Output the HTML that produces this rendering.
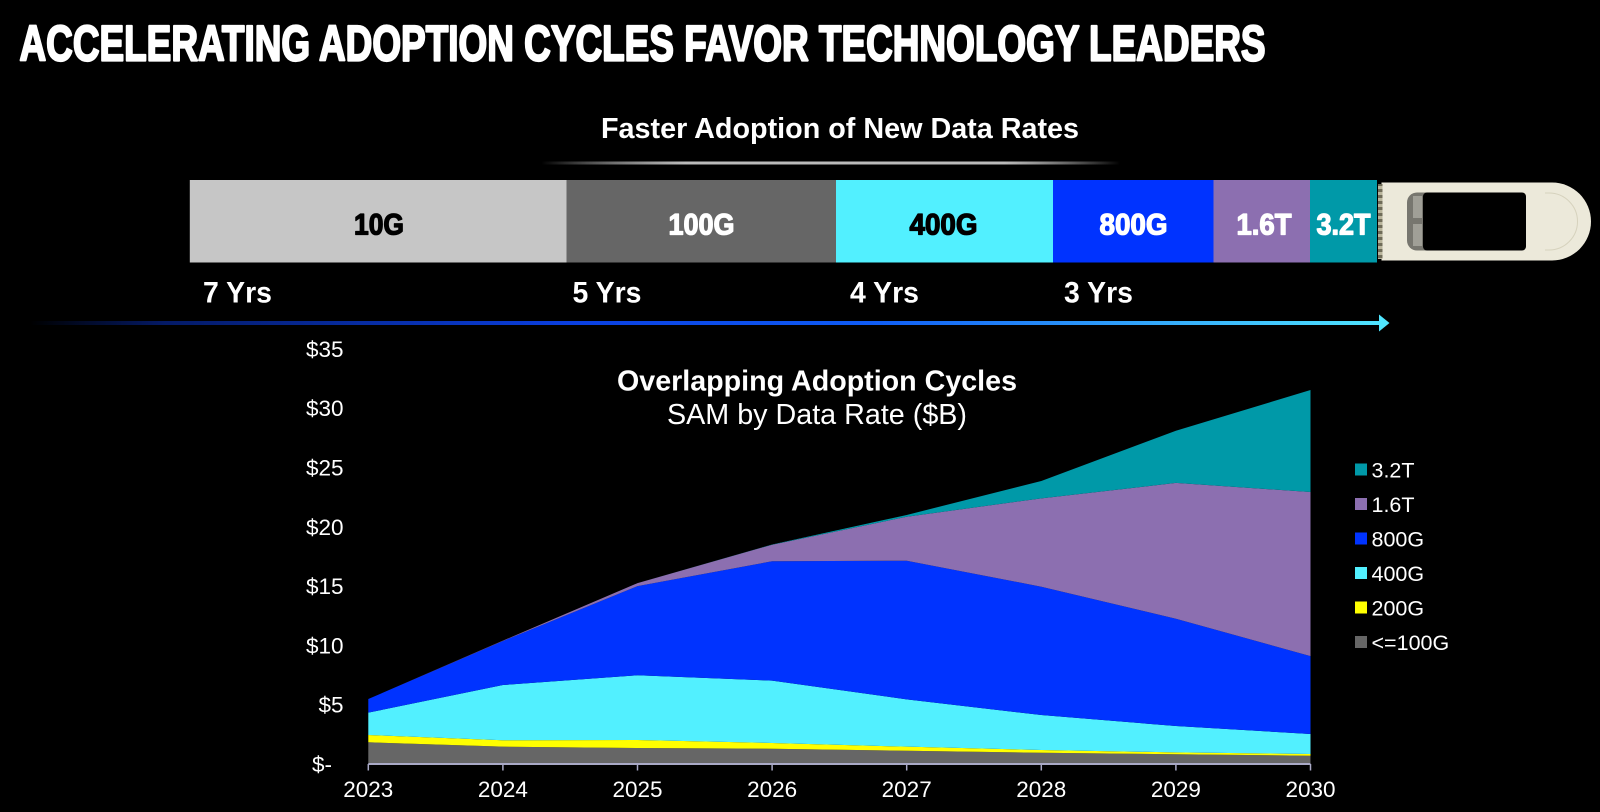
<!DOCTYPE html>
<html lang="en">
<head>
<meta charset="utf-8">
<title>Accelerating Adoption Cycles Favor Technology Leaders</title>
<style>
html,body{margin:0;padding:0;background:#000;width:1600px;height:812px;overflow:hidden}
svg{display:block}
text{font-family:"Liberation Sans",Arial,sans-serif}
.heavy{font-weight:bold;stroke-linejoin:round}
</style>
</head>
<body>
<svg id="root" xmlns="http://www.w3.org/2000/svg" width="1600" height="812" viewBox="0 0 1600 812">
<defs>
<linearGradient id="ruleGrad" x1="0" x2="1" y1="0" y2="0">
<stop offset="0" stop-color="#fff" stop-opacity="0"/>
<stop offset=".25" stop-color="#bbb"/>
<stop offset=".8" stop-color="#bbb"/>
<stop offset="1" stop-color="#fff" stop-opacity="0"/>
</linearGradient>
<linearGradient id="arrowGrad" gradientUnits="userSpaceOnUse" x1="30" x2="1385" y1="0" y2="0">
<stop offset="0" stop-color="#000"/>
<stop offset=".1" stop-color="#041a66"/>
<stop offset=".4" stop-color="#0a3fe0"/>
<stop offset=".62" stop-color="#0f5cf5"/>
<stop offset="1" stop-color="#50e6ff"/>
</linearGradient>
<pattern id="contactPattern" patternUnits="userSpaceOnUse" width="5" height="6">
<rect width="5" height="6" fill="#6f6c58"/>
<rect y="0" width="5" height="3" fill="#b9b59c"/>
</pattern>
</defs>
<rect width="1600" height="812" fill="#000"/>

<text class="heavy" x="19.500" y="60.500" font-size="50" fill="#fff" stroke="#fff" stroke-width="2.200" textLength="1246" lengthAdjust="spacingAndGlyphs">ACCELERATING ADOPTION CYCLES FAVOR TECHNOLOGY LEADERS</text>
<text class="heavy" x="601" y="138" font-size="29" fill="#fff" textLength="478" lengthAdjust="spacingAndGlyphs">Faster Adoption of New Data Rates</text>
<rect x="541" y="161.500" width="579" height="3" fill="url(#ruleGrad)"/>

<g>
<rect x="189.800" y="180" width="376.700" height="82.500" fill="#c6c6c6"/>
<rect x="566.500" y="180" width="269.500" height="82.500" fill="#666666"/>
<rect x="836" y="180" width="217" height="82.500" fill="#52f0ff"/>
<rect x="1053" y="180" width="160.500" height="82.500" fill="#0033ff"/>
<rect x="1213.500" y="180" width="96.500" height="82.500" fill="#8c6fb0"/>
<rect x="1310" y="180" width="67" height="82.500" fill="#0099a8"/>
<text class="heavy" x="354" y="234.500" font-size="30" fill="#000" stroke="#000" stroke-width="1.300" textLength="50" lengthAdjust="spacingAndGlyphs">10G</text>
<text class="heavy" x="668.500" y="234.500" font-size="30" fill="#fff" stroke="#fff" stroke-width="1.300" textLength="66" lengthAdjust="spacingAndGlyphs">100G</text>
<text class="heavy" x="909.500" y="234.500" font-size="30" fill="#000" stroke="#000" stroke-width="1.300" textLength="68" lengthAdjust="spacingAndGlyphs">400G</text>
<text class="heavy" x="1099.500" y="234.500" font-size="30" fill="#fff" stroke="#fff" stroke-width="1.300" textLength="68" lengthAdjust="spacingAndGlyphs">800G</text>
<text class="heavy" x="1236.500" y="234.500" font-size="30" fill="#fff" stroke="#fff" stroke-width="1.300" textLength="55" lengthAdjust="spacingAndGlyphs">1.6T</text>
<text class="heavy" x="1316.500" y="234.500" font-size="30" fill="#fff" stroke="#fff" stroke-width="1.300" textLength="54" lengthAdjust="spacingAndGlyphs">3.2T</text>
</g>

<g>
<path d="M1381.500 182.500H1552a39 39 0 0 1 0 78H1381.500Z" fill="#ece9da"/>
<path d="M1545 193H1549a28.500 28.500 0 0 1 0 57H1545" fill="none" stroke="#d6d2bd" stroke-width="1"/>
<rect x="1378" y="184" width="4.500" height="75" fill="url(#contactPattern)"/>
<rect x="1407" y="192.500" width="30" height="58" rx="10" fill="#77766f"/>
<rect x="1413" y="196" width="9" height="22" fill="#a09f97"/>
<rect x="1413" y="224" width="9" height="22" fill="#a09f97"/>
<rect x="1423" y="192.500" width="103" height="58" rx="4" fill="#000"/>
</g>

<text class="heavy" x="203" y="302.500" font-size="30" fill="#fff" textLength="69" lengthAdjust="spacingAndGlyphs">7 Yrs</text>
<text class="heavy" x="572.500" y="302.500" font-size="30" fill="#fff" textLength="69" lengthAdjust="spacingAndGlyphs">5 Yrs</text>
<text class="heavy" x="850" y="302.500" font-size="30" fill="#fff" textLength="69" lengthAdjust="spacingAndGlyphs">4 Yrs</text>
<text class="heavy" x="1064" y="302.500" font-size="30" fill="#fff" textLength="69" lengthAdjust="spacingAndGlyphs">3 Yrs</text>

<g>
<rect x="30" y="321" width="1351" height="4" fill="url(#arrowGrad)"/>
<polygon points="1379,314.500 1389.500,323 1379,331.500" fill="#50e6ff"/>
</g>

<text class="heavy" x="617" y="390.500" font-size="29" fill="#fff" textLength="400" lengthAdjust="spacingAndGlyphs">Overlapping Adoption Cycles</text>
<text x="667" y="424" font-size="29" fill="#fff" textLength="300" lengthAdjust="spacingAndGlyphs">SAM by Data Rate ($B)</text>

<g id="areas"></g>
<g id="xaxis"></g>
<g id="yaxis"></g>
<g id="legend"></g>
</svg>
<script>
const years = ["2023","2024","2025","2026","2027","2028","2029","2030"];
const yTickValues = [0,5,10,15,20,25,30,35];
const yTickLabels = ["$-","$5","$10","$15","$20","$25","$30","$35"];
const seriesNames = ["<=100G","200G","400G","800G","1.6T","3.2T"];
const seriesColors = ["#666666","#ffff00","#52f0ff","#0033ff","#8c6fb0","#0099a8"];
const le100G = [1.83,1.46,1.35,1.29,1.12,0.95,0.82,0.70];
const s200G  = [0.62,0.54,0.67,0.48,0.34,0.23,0.16,0.14];
const s400G  = [1.88,4.66,5.46,5.26,3.99,2.95,2.22,1.69];
const s800G  = [1.15,3.71,7.52,10.06,11.69,10.82,9.05,6.57];
const s1600G = [0.00,0.03,0.25,1.40,3.71,7.45,11.45,13.83];
const s3200G = [0.00,0.00,0.00,0.02,0.15,1.46,4.40,8.60];
const seriesValues = [le100G,s200G,s400G,s800G,s1600G,s3200G];

const NS = "http://www.w3.org/2000/svg";
function xScale(i){ return 368.3 + i * (1310.5 - 368.3) / (years.length - 1); }
function yScale(v){ return 764 - v * 11.86; }
function make(tag, attrs, parent){
  const el = document.createElementNS(NS, tag);
  for (const k in attrs) el.setAttribute(k, attrs[k]);
  parent.appendChild(el);
  return el;
}

const areas = document.getElementById("areas");
let base = years.map(() => 0);
seriesValues.forEach((vals, s) => {
  const top = vals.map((v, i) => base[i] + v);
  const pts = [];
  top.forEach((v, i) => pts.push(xScale(i).toFixed(2) + "," + yScale(v).toFixed(2)));
  for (let i = years.length - 1; i >= 0; i--) pts.push(xScale(i).toFixed(2) + "," + yScale(base[i]).toFixed(2));
  const poly = make("polygon", {points: pts.join(" "), fill: seriesColors[s]}, areas);
  
  
  base = top;
});

const xaxis = document.getElementById("xaxis");
const axisLine = make("line", {x1: xScale(0), x2: xScale(years.length - 1), y1: yScale(0), y2: yScale(0), stroke: "#a9a9c6", "stroke-width": 2}, xaxis);


years.forEach((y, i) => {
  const tick = make("line", {x1: xScale(i), x2: xScale(i), y1: yScale(0), y2: yScale(0) + 6.5, stroke: "#a9a9c6", "stroke-width": 1.5}, xaxis);
  
  
  const label = make("text", {x: xScale(i), y: 797, "text-anchor": "middle", "font-size": 22.5, fill: "#fff"}, xaxis);
  
  
  label.textContent = y;
});

const yaxis = document.getElementById("yaxis");
yTickValues.forEach((v, i) => {
  const label = make("text", {x: v === 0 ? 332 : 343.5, y: yScale(v) + 8, "text-anchor": "end", "font-size": 22.5, fill: "#fff"}, yaxis);
  
  
  label.textContent = yTickLabels[i];
});

const legend = document.getElementById("legend");
for (let s = seriesNames.length - 1; s >= 0; s--) {
  const row = seriesNames.length - 1 - s;
  const cy = 469.5 + row * 34.5;
  const swatch = make("rect", {x: 1355, y: cy - 6, width: 12, height: 12, fill: seriesColors[s]}, legend);
  
  
  const label = make("text", {x: 1371.5, y: cy + 8, "font-size": 21.5, fill: "#fff"}, legend);
  
  
  label.textContent = seriesNames[s];
}
</script>
</body>
</html>
